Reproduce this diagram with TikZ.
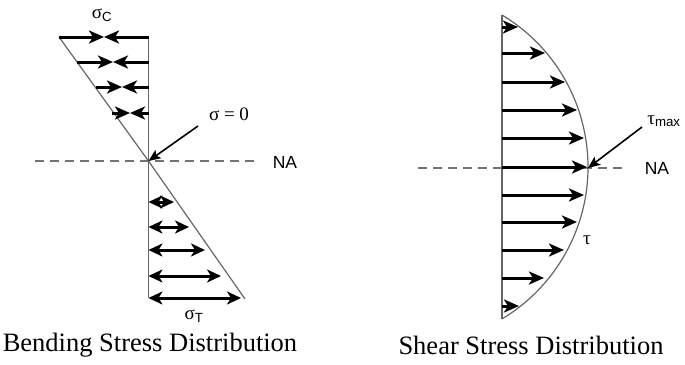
\documentclass[tikz,border=0pt]{standalone}
\usepackage{fontspec}
\setmainfont{Liberation Serif}
\setsansfont{Liberation Sans}
\usetikzlibrary{arrows.meta,positioning}

\begin{document}
\begin{tikzpicture}
  [x=1pt,y=-1pt,
  outline/.style={draw=black!60,line width=1.2pt},
  neutral/.style={draw=black!55,line width=1.3pt,dash pattern=on 9pt off 6pt},
  force/.style={line width=3pt,-{Stealth[length=15pt,width=13pt,inset=4pt]}},
  twoway/.style={line width=3pt,{Stealth[length=14pt,width=13pt,inset=4pt]}-{Stealth[length=14pt,width=13pt,inset=4pt]}},
  pointer/.style={line width=1.6pt,-{Stealth[length=12pt,width=10pt,inset=2.5pt]}},
  stresslabel/.style={font=\fontsize{19}{22}\selectfont,inner sep=0pt},
  axislabel/.style={font=\sffamily\fontsize{17.5}{20}\selectfont,inner sep=0pt},
  caption/.style={font=\fontsize{26.5}{30}\selectfont}]
  \useasboundingbox (0,0) rectangle (685,364);
  % bending stress
  \coordinate (O) at (148.5,161);
  \draw[neutral] (35,161) -- (258,161);
  \draw[outline] (148.5,37) -- (148.5,298);
  \draw[outline] (59,37) -- (O) -- (245,299);
  \draw[force] (59,37) -- (104,37);
  \draw[force] (148.5,37) -- (104,37);
  \draw[force] (77,62) -- (113,62);
  \draw[force] (148.5,62) -- (113,62);
  \draw[force] (96,87) -- (122,87);
  \draw[force] (148.5,87) -- (122,87);
  \draw[force] (112,113) -- (130,113);
  \draw[force] (148.5,113) -- (130,113);
  \draw[twoway] (148.5,202) -- (174,202);
  \draw[twoway] (148.5,227) -- (189,227);
  \draw[twoway] (148.5,250) -- (205,250);
  \draw[twoway] (148.5,276) -- (221,276);
  \draw[twoway] (148.5,298) -- (241,298);
  \node[stresslabel] (sigc) at (102,15) {σ\textsubscript{\sffamily C}};
  \node[stresslabel] (sigzero) at (229,114) {σ = 0};
  \node[axislabel] (naleft) at (285,162) {NA};
  \node[stresslabel] (sigt) at (194,316) {σ\textsubscript{\sffamily T}};
  \draw[pointer] (198,126) -- (O);
  \node[caption] (bendcap) at (150,345) {Bending Stress Distribution};
  % shear stress
  \coordinate (M) at (588,168);
  \draw[neutral] (418,168) -- (628,168);
  \draw[outline] (502,15) -- (502,319);
  \draw[outline] (502,15) arc[start angle=-59, end angle=59, radius=177.3];
  \draw[force] (502,27) -- (518,27);
  \draw[force] (502,53) -- (545,53);
  \draw[force] (502,82) -- (565,82);
  \draw[force] (502,110) -- (577,110);
  \draw[force] (502,138) -- (584,138);
  \draw[force] (502,167) -- (587,167);
  \draw[force] (502,195) -- (584,195);
  \draw[force] (502,222) -- (577,222);
  \draw[force] (502,250) -- (564,250);
  \draw[force] (502,278) -- (544,278);
  \draw[force] (502,306) -- (519,306);
  \node[stresslabel] (taumax) at (664,121) {τ\textsubscript{\sffamily max}};
  \node[axislabel] (naright) at (657,168) {NA};
  \node[stresslabel] (tau) at (587,240) {τ};
  \draw[pointer] (642,127) -- (M);
  \node[caption] (shearcap) at (531,345) {Shear Stress Distribution};
\end{tikzpicture}
\end{document}
